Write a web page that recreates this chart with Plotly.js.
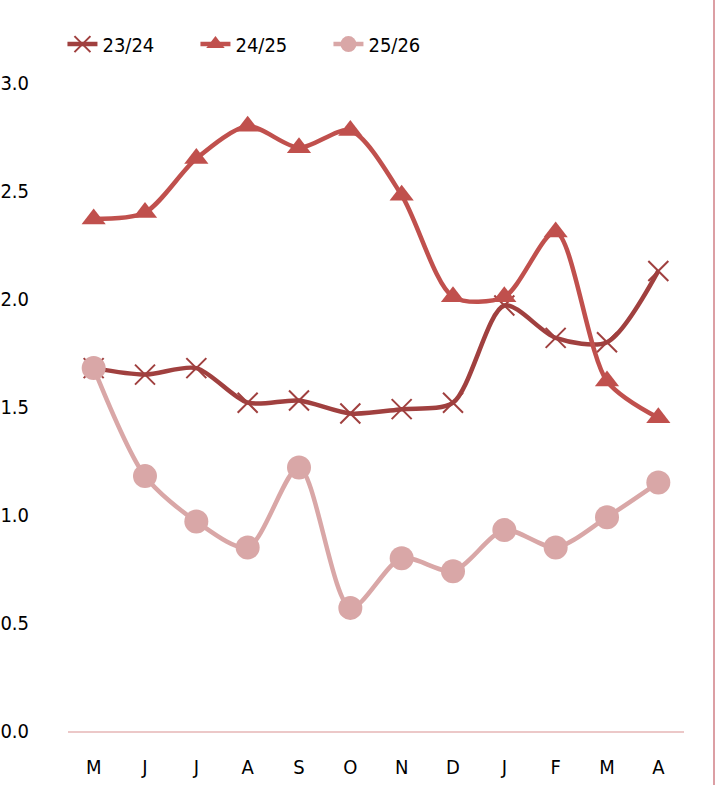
<!DOCTYPE html>
<html>
<head>
<meta charset="utf-8">
<script src="https://cdn.plot.ly/plotly-3.0.1.min.js"></script>
<style>html,body{margin:0;padding:0;background:#fff;}#chart{width:721px;height:785px;}</style>
</head>
<body>
<div id="chart"></div>
<script>
var months = ["M","J","J","A","S","O","N","D","J","F","M","A"];
var seriesNames = ["23/24","24/25","25/26"];
var s2324 = [1.68,1.65,1.68,1.52,1.53,1.47,1.49,1.52,1.97,1.82,1.80,2.13];
var s2425 = [2.37,2.40,2.65,2.80,2.70,2.78,2.48,2.01,2.01,2.31,1.62,1.45];
var s2526 = [1.68,1.18,0.97,0.85,1.22,0.57,0.80,0.74,0.93,0.85,0.99,1.15];
var yTicks = [0,0.5,1.0,1.5,2.0,2.5,3.0];

var idx = months.map(function(_,i){return i;});
var fontFam = "'DejaVu Sans Condensed','DejaVu Sans',sans-serif";

var traces = [
  {x: idx, y: s2324, name: seriesNames[0], type:'scatter', mode:'lines+markers',
   line:{color:'#a0403f', width:4.5, shape:'spline', smoothing:0.8},
   marker:{symbol:'x-thin-open', size:20, line:{color:'#a0403f', width:2}, color:'#a0403f'}},
  {x: idx, y: s2425, name: seriesNames[1], type:'scatter', mode:'lines+markers',
   line:{color:'#c0504d', width:4.5, shape:'spline', smoothing:0.8},
   marker:{symbol:'triangle-up', size:21, color:'#c0504d'}},
  {x: idx, y: s2526, name: seriesNames[2], type:'scatter', mode:'lines+markers',
   line:{color:'#d9a7a7', width:4.5, shape:'spline', smoothing:0.8},
   marker:{symbol:'circle', size:24, color:'#d9a7a7'}}
];

var layout = {
  width:721, height:785,
  margin:{l:68, r:37, t:83, b:54},
  paper_bgcolor:'#fff', plot_bgcolor:'#fff',
  font:{family:fontFam, size:20, color:'#000'},
  showlegend:true,
  legend:{orientation:'h', x:-0.009, xanchor:'left', y:1.06, yanchor:'middle',
          font:{family:fontFam, size:20, color:'#000'}, entrywidth:88, entrywidthmode:'pixels',
          traceorder:'normal'},
  xaxis:{range:[-0.5,11.5], tickmode:'array', tickvals:idx, ticktext:months,
         showgrid:false, zeroline:false, showline:true, linecolor:'#ecc8c8', linewidth:2,
         ticks:'', ticklabelstandoff:17, fixedrange:true},
  yaxis:{range:[0,3.0], tickmode:'array', tickvals:yTicks,
         ticktext:yTicks.map(function(v){return v.toFixed(1);}),
         showgrid:false, zeroline:false, showline:false, ticks:'',
         ticklabelstandoff:38, fixedrange:true},
  shapes:[{type:'line', xref:'paper', yref:'paper', x0:1.0487, x1:1.0487, y0:-0.2, y1:1.3,
           line:{color:'#dc9fa4', width:2}}]
};

Plotly.newPlot('chart', traces, layout, {displayModeBar:false, staticPlot:true});
</script>
</body>
</html>
